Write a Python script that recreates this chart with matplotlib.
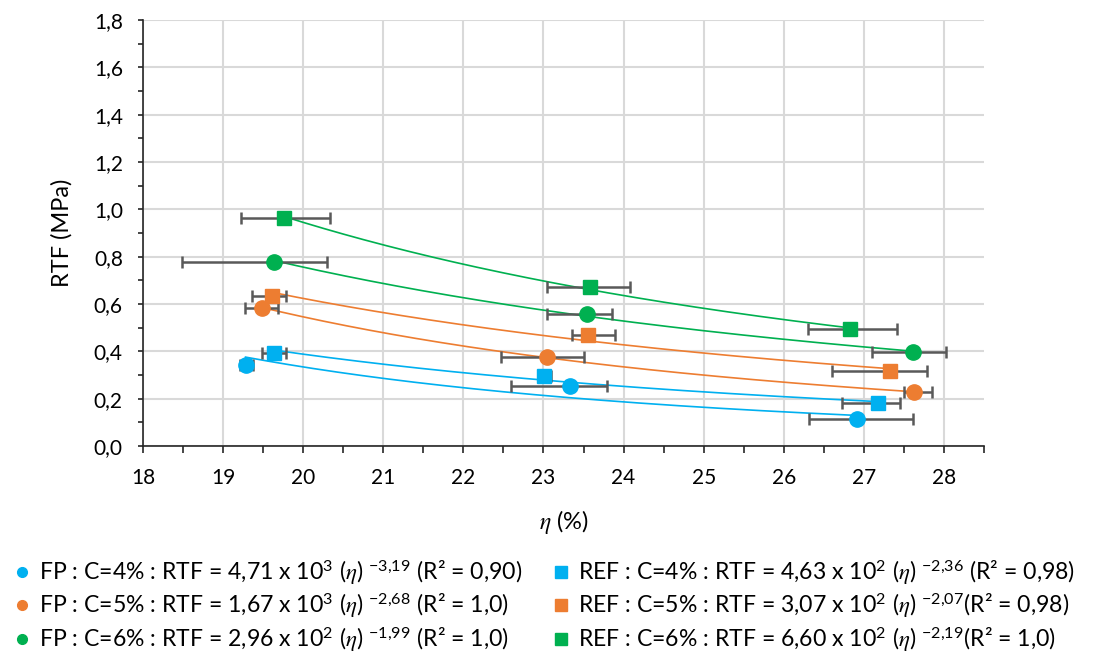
import numpy as np
import matplotlib
matplotlib.use("Agg")
import matplotlib.pyplot as plt
from matplotlib.lines import Line2D
from matplotlib.ticker import MultipleLocator, FuncFormatter

plt.rcParams['font.family'] = ['Lato', 'DejaVu Sans']
plt.rcParams['mathtext.fontset'] = 'custom'
plt.rcParams['mathtext.rm'] = 'Lato'
plt.rcParams['mathtext.sf'] = 'Lato'
plt.rcParams['mathtext.it'] = 'STIXGeneral:italic'

# ---- data ----
fp4_x = [19.28, 23.33, 26.91]
fp4_y = [0.342, 0.254, 0.114]
fp4_lo = [0.075, 0.74, 0.59]
fp4_hi = [0.09, 0.46, 0.70]

ref4_x = [19.63, 23.01, 27.18]
ref4_y = [0.393, 0.296, 0.182]
ref4_lo = [0.15, 0.08, 0.45]
ref4_hi = [0.16, 0.08, 0.27]

fp5_x = [19.48, 23.05, 27.63]
fp5_y = [0.583, 0.376, 0.228]
fp5_lo = [0.21, 0.575, 0.125]
fp5_hi = [0.20, 0.45, 0.225]

ref5_x = [19.61, 23.55, 27.33]
ref5_y = [0.634, 0.469, 0.317]
ref5_lo = [0.25, 0.19, 0.725]
ref5_hi = [0.175, 0.34, 0.46]

fp6_x = [19.64, 23.54, 27.61]
fp6_y = [0.777, 0.558, 0.397]
fp6_lo = [1.15, 0.50, 0.51]
fp6_hi = [0.66, 0.31, 0.41]

ref6_x = [19.76, 23.58, 26.83]
ref6_y = [0.963, 0.672, 0.494]
ref6_lo = [0.54, 0.54, 0.525]
ref6_hi = [0.575, 0.50, 0.59]

labels = [
    r"FP : C=4% : RTF = 4,71 x 10$^{3}$ ($\eta$) $^{-3{,}19}$ (R² = 0,90)",
    r"FP : C=5% : RTF = 1,67 x 10$^{3}$ ($\eta$) $^{-2{,}68}$ (R² = 1,0)",
    r"FP : C=6% : RTF = 2,96 x 10$^{2}$ ($\eta$) $^{-1{,}99}$ (R² = 1,0)",
    r"REF : C=4% : RTF = 4,63 x 10$^{2}$ ($\eta$) $^{-2{,}36}$ (R² = 0,98)",
    r"REF : C=5% : RTF = 3,07 x 10$^{2}$ ($\eta$) $^{-2{,}07}$(R² = 0,98)",
    r"REF : C=6% : RTF = 6,60 x 10$^{2}$ ($\eta$) $^{-2{,}19}$(R² = 1,0)",
]

BLUE = '#00B0F0'
ORANGE = '#ED7D31'
GREEN = '#00B050'
ERR = '#595959'

series = [
    (fp4_x, fp4_y, fp4_lo, fp4_hi, BLUE, 'o'),
    (fp5_x, fp5_y, fp5_lo, fp5_hi, ORANGE, 'o'),
    (fp6_x, fp6_y, fp6_lo, fp6_hi, GREEN, 'o'),
    (ref4_x, ref4_y, ref4_lo, ref4_hi, BLUE, 's'),
    (ref5_x, ref5_y, ref5_lo, ref5_hi, ORANGE, 's'),
    (ref6_x, ref6_y, ref6_lo, ref6_hi, GREEN, 's'),
]

fig = plt.figure(figsize=(10.93, 6.59), dpi=100)
ax = fig.add_axes([143 / 1093, 1 - 446 / 659, (984 - 143) / 1093, (446 - 20) / 659])

for x, y, lo, hi, col, mk in series:
    x = np.array(x)
    y = np.array(y)
    # power trendline like Excel: fit in log-log space
    b, a = np.polyfit(np.log(x), np.log(y), 1)
    xs = np.linspace(x.min(), x.max(), 200)
    ax.plot(xs, np.exp(a) * xs ** b, color=col, lw=1.2, zorder=2)
    ax.errorbar(x, y, xerr=[lo, hi], fmt='none', ecolor=ERR, elinewidth=1.8,
                capsize=4.5, capthick=1.8, zorder=3)
    ax.plot(x, y, linestyle='none', marker=mk, ms=11 if mk == 'o' else 10.5,
            color=col, mec=col, zorder=4)

ax.set_xlim(18, 28.5)
ax.set_ylim(0, 1.8)
ax.set_xticks(np.arange(18, 29, 1))
ax.xaxis.set_minor_locator(MultipleLocator(0.5))
ax.yaxis.set_major_locator(MultipleLocator(0.2))
ax.yaxis.set_minor_locator(MultipleLocator(0.1))
ax.yaxis.set_major_formatter(FuncFormatter(lambda v, p: f"{v:.1f}".replace('.', ',')))
ax.grid(True, which='major', color='#D9D9D9', lw=1.5)
ax.set_axisbelow(True)
for s in ['top', 'right']:
    ax.spines[s].set_visible(False)
for s in ['left', 'bottom']:
    ax.spines[s].set_color('#262626')
    ax.spines[s].set_linewidth(1.2)
ax.tick_params(which='both', direction='out', color='#262626', width=1.2,
               labelsize=15, labelcolor='black')
ax.tick_params(axis='x', which='both', length=5, pad=11)
ax.tick_params(axis='y', which='both', length=3.5, pad=11)

ax.set_xlabel(r"$\eta$ (%)", fontsize=17, labelpad=14)
ax.set_ylabel("RTF (MPa)", fontsize=17, labelpad=15)

handles = [Line2D([], [], linestyle='none', marker=s[5], ms=7 if s[5] == 'o' else 8,
                  color=s[4]) for s in series]
leg_kw = dict(frameon=False, fontsize=16.6, handlelength=0.6, handletextpad=0.45,
              labelspacing=0.2, borderaxespad=0, borderpad=0)
leg1 = fig.legend(handles[:3], labels[:3], loc='upper left',
                  bbox_to_anchor=(15 / 1093, 1 - 558 / 659), **leg_kw)
leg2 = fig.legend(handles[3:], labels[3:], loc='upper left',
                  bbox_to_anchor=(554 / 1093, 1 - 558 / 659), **leg_kw)

fig.savefig("out.png", dpi=100)
